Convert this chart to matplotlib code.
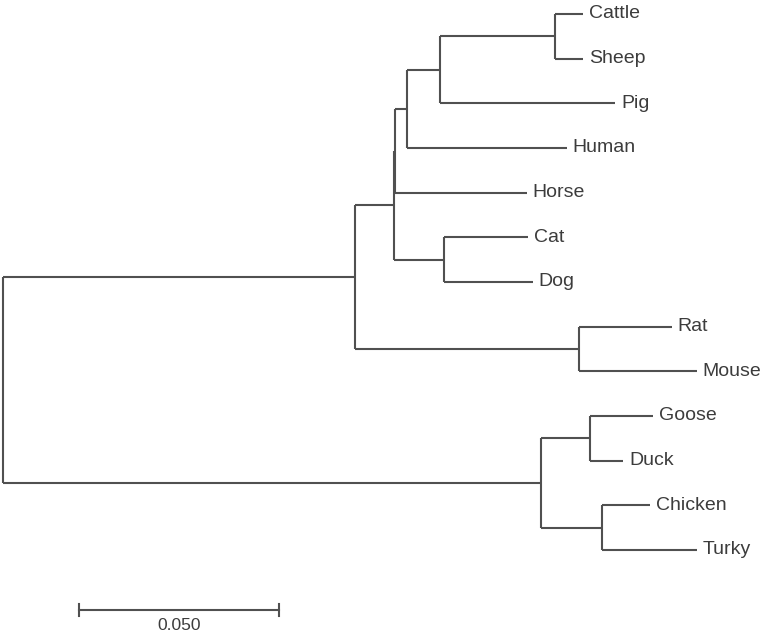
import matplotlib
matplotlib.use("Agg")
import matplotlib.pyplot as plt

# ---- tree data (MEGA-style phylogram) ----
node_ids = ["root", "Mammals", "Birds", "nB", "nA", "nC", "nD", "nE",
            "Cattle", "Sheep", "Pig", "Human", "Horse", "CatDog", "Cat", "Dog",
            "RatMouse", "Rat", "Mouse", "GooseDuck", "Goose", "Duck",
            "ChickTurk", "Chicken", "Turky"]
parents = [None, "root", "root", "Mammals", "nB", "nA", "nC", "nD",
           "nE", "nE", "nD", "nC", "nA", "nB", "CatDog", "CatDog",
           "Mammals", "RatMouse", "RatMouse", "Birds", "GooseDuck", "GooseDuck",
           "Birds", "ChickTurk", "ChickTurk"]
branch_lengths = [0.0, 0.0880, 0.1345, 0.00975, 0.00025, 0.0029, 0.0084, 0.0288,
                  0.0070, 0.0070, 0.0438, 0.0401, 0.0330, 0.0125, 0.0210, 0.0223,
                  0.0560, 0.0233, 0.0295, 0.0123, 0.0158, 0.0083,
                  0.0153, 0.0120, 0.0238]
leaf_order = ["Cattle", "Sheep", "Pig", "Human", "Horse", "Cat", "Dog",
              "Rat", "Mouse", "Goose", "Duck", "Chicken", "Turky"]
scale_length = 0.05
scale_label = "0.050"

# ---- layout computation ----
parent_of = dict(zip(node_ids, parents))
blen = dict(zip(node_ids, branch_lengths))
children = {n: [] for n in node_ids}
for n, p in zip(node_ids, parents):
    if p is not None:
        children[p].append(n)

xpos = {}
def set_x(n, x0):
    xpos[n] = x0 + blen[n]
    for c in children[n]:
        set_x(c, xpos[n])
set_x("root", 0.0)

ypos = {}
def set_y(n):
    if not children[n]:
        ypos[n] = float(leaf_order.index(n))
    else:
        for c in children[n]:
            set_y(c)
        ys = [ypos[c] for c in children[n]]
        ypos[n] = (min(ys) + max(ys)) / 2.0
set_y("root")

# ---- drawing ----
W, H = 777, 640
fig = plt.figure(figsize=(W / 100, H / 100), dpi=100)
ax = fig.add_axes([0, 0, 1, 1])
ax.set_axis_off()

px_per_unit = 4000.0
x0_px = 3.0
y0_px, ystep_px = 14.0, 44.67
ax.set_xlim(-x0_px / px_per_unit, (W - x0_px) / px_per_unit)
ax.set_ylim((H - y0_px) / ystep_px, -y0_px / ystep_px)

line_color = "#505050"
text_color = "#3c3c3c"
lw = 1.5
font = ["Liberation Sans", "DejaVu Sans"]

for n in node_ids:
    p = parent_of[n]
    if p is not None:
        ax.plot([xpos[p], xpos[n]], [ypos[n], ypos[n]], color=line_color, lw=lw,
                solid_capstyle="butt")
    if children[n]:
        ys = [ypos[c] for c in children[n]]
        ax.plot([xpos[n], xpos[n]], [min(ys), max(ys)], color=line_color, lw=lw,
                solid_capstyle="butt")

for leaf in leaf_order:
    ax.annotate(leaf, (xpos[leaf], ypos[leaf]), xytext=(4.0, -3.2),
                textcoords="offset points", ha="left", va="baseline",
                fontsize=14, color=text_color, family=font)

# scale bar
sb_x = (79 - x0_px) / px_per_unit
sb_y = (610 - y0_px) / ystep_px
tick_h = 6 / ystep_px
ax.plot([sb_x, sb_x + scale_length], [sb_y, sb_y], color=line_color, lw=lw)
for xx in (sb_x, sb_x + scale_length):
    ax.plot([xx, xx], [sb_y - tick_h, sb_y + tick_h], color=line_color, lw=lw)
ax.text(sb_x + scale_length / 2, sb_y + 8 / ystep_px, scale_label, ha="center",
        va="top", fontsize=12.5, color=text_color, family=font)

fig.savefig("out.png", dpi=100, facecolor="white")
